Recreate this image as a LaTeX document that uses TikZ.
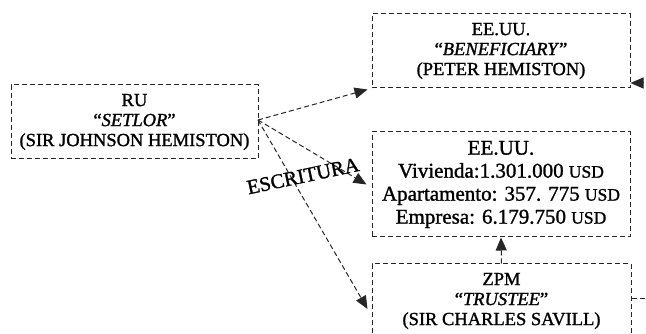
\documentclass[tikz,border=0pt]{standalone}
\usepackage{fontspec}
\setmainfont{Liberation Serif}[FakeBold=1.3]
\usetikzlibrary{arrows.meta}
\begin{document}
\begin{tikzpicture}[x=1pt,y=-1pt,
  ink/.style={draw=black!85, line width=1pt, dash pattern=on 5pt off 3pt},
  party/.style={ink, align=center, text=black, inner sep=0pt,
    font=\fontsize{18.5}{20}\selectfont},
  link/.style={ink, -{Triangle[length=13pt,width=11pt]}}]
\newcommand{\usdunit}{{\fontsize{17.5}{23}\selectfont USD}}
\useasboundingbox (0,0) rectangle (646,334);
\clip (0,0) rectangle (646,334);

% parties
\node[party, minimum width=247pt, minimum height=74pt] (ru) at (134.5,122)
  {RU\\“\textit{SETLOR}”\\(SIR JOHNSON HEMISTON)};
\node[party, minimum width=258pt, minimum height=74pt] (bene) at (501,51)
  {EE.UU.\\“\textit{BENEFICIARY}”\\(PETER HEMISTON)};
\node[party, minimum width=258pt, minimum height=105pt,
  font=\fontsize{21}{23}\selectfont] (assets) at (501,184.5)
  {EE.UU.\\Vivienda:1.301.000 \usdunit\\Apartamento: 357. 775 \usdunit\\Empresa: 6.179.750 \usdunit};
\node[party, minimum width=259pt, minimum height=74pt] (zpm) at (501.5,301)
  {ZPM\\“\textit{TRUSTEE}”\\(SIR CHARLES SAVILL)};

% connectors
\coordinate (src) at (258,120);
\coordinate (rin) at (660,83);
\coordinate (rout) at (660,298);
\draw[link] (src) -- ([xshift=-4pt,yshift=-1pt]bene.south west);
\draw[link] (src) -- ([xshift=-5pt]assets.west);
\draw[link] (src) -- ([xshift=-4pt,yshift=-8pt]zpm.west);
\draw[link] (zpm.north) -- (assets.south);
\draw[link] (rin) -- (rin -| bene.east);
\draw[ink] (rout -| zpm.east) -- (rout);

\node[rotate=12, font=\fontsize{20.5}{20}\selectfont, text=black, inner sep=0pt]
  (deed) at (303,176) {ESCRITURA};
\end{tikzpicture}
\end{document}
